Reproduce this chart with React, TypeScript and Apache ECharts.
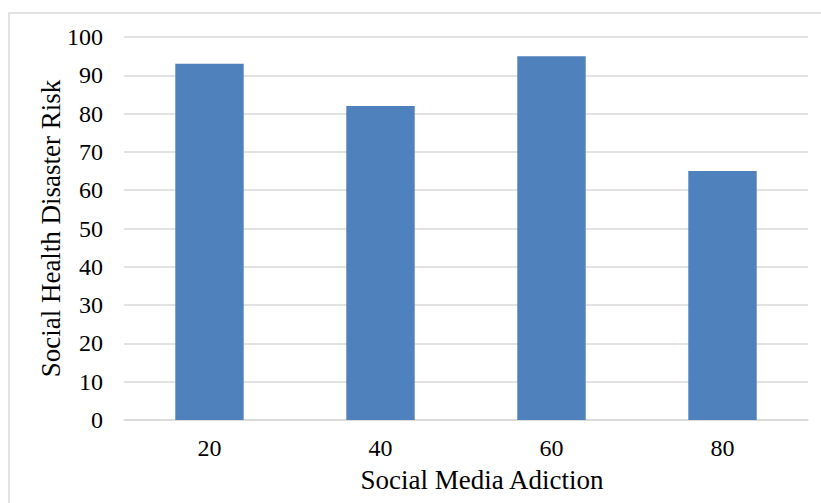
import React, { useEffect, useRef } from "react";
import * as echarts from "echarts";

const categories = ["20", "40", "60", "80"];
const values = [93, 82, 95, 65];
const yTicks = { min: 0, max: 100, interval: 10 };
const xTitle = "Social Media Adiction";
const yTitle = "Social Health Disaster Risk";

export default function App() {
  const ref = useRef<HTMLDivElement>(null);
  useEffect(() => {
    document.body.style.margin = "0";
    const chart = echarts.init(ref.current!, null, { renderer: "svg" });
    const font = "'Liberation Serif', 'Times New Roman', serif";
    chart.setOption({
      animation: false,
      backgroundColor: "#ffffff",
      graphic: [
        {
          type: "rect",
          shape: { x: 9, y: 13, width: 840, height: 520 },
          style: { fill: "none", stroke: "#d9d9d9", lineWidth: 1.5 },
          silent: true,
        },
      ],
      grid: { left: 124, right: 13, top: 37, bottom: 83, containLabel: false },
      xAxis: {
        type: "category",
        data: categories,
        name: xTitle,
        nameLocation: "middle",
        nameGap: 46,
        nameTextStyle: { fontFamily: font, fontSize: 27, color: "#000", padding: [0, 0, 0, 32] },
        axisLine: { show: true, lineStyle: { color: "#d9d9d9", width: 1.5 } },
        axisTick: { show: false },
        axisLabel: { fontFamily: font, fontSize: 24, color: "#000", margin: 16 },
      },
      yAxis: {
        type: "value",
        min: yTicks.min,
        max: yTicks.max,
        interval: yTicks.interval,
        name: yTitle,
        nameLocation: "middle",
        nameGap: 60,
        nameMoveOverlap: false,
        nameTextStyle: { fontFamily: font, fontSize: 27, color: "#000" },
        axisLine: { show: false },
        axisTick: { show: false },
        axisLabel: { fontFamily: font, fontSize: 24, color: "#000", margin: 21 },
        splitLine: { lineStyle: { color: "#d9d9d9", width: 1.5 } },
      },
      series: [
        {
          type: "bar",
          data: values,
          barWidth: "40%",
          itemStyle: { color: "#4f81bd" },
        },
      ],
    });
    return () => chart.dispose();
  }, []);
  return <div ref={ref} style={{ width: 821, height: 503 }} />;
}
